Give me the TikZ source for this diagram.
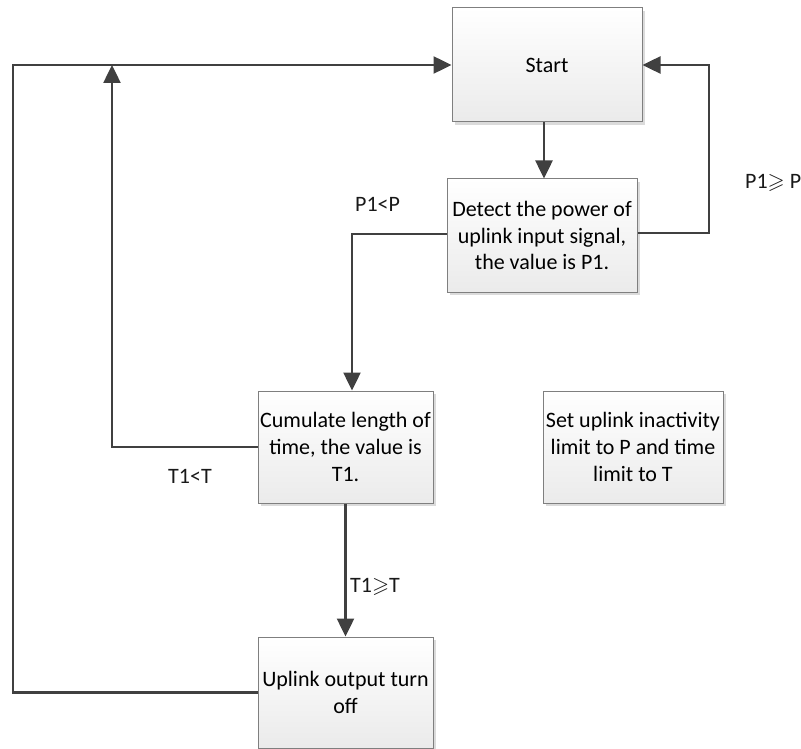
\documentclass[tikz,border=0pt]{standalone}
\usepackage{fontspec}
\setmainfont{Carlito}
\usepackage{amssymb}
\usetikzlibrary{arrows.meta,calc,shadows}
\definecolor{linec}{HTML}{404040}
\definecolor{boxborder}{HTML}{7F7F7F}
\tikzset{
  box/.style={draw=boxborder, line width=1pt, top color=white, bottom color=black!8,
    align=center, inner sep=0pt, font=\fontsize{22}{26.8}\selectfont,
    drop shadow={shadow xshift=3pt, shadow yshift=-3pt, fill=black!14, opacity=1}},
  conn/.style={draw=linec, line width=2.5pt, -{Triangle[length=18pt,width=17pt]}},
  lbl/.style={font=\fontsize{22}{26.8}\selectfont, inner sep=0pt, text=black!90}
}
\begin{document}
\begin{tikzpicture}[x=1pt,y=-1pt]
\useasboundingbox (0,0) rectangle (801,749);
\node[box, minimum width=190pt, minimum height=114pt] (start) at (547,65) {Start};
\node[box, minimum width=190pt, minimum height=113pt] (detect) at (542,235.5) {Detect the power of\\uplink input signal,\\the value is P1.};
\node[box, minimum width=175pt, minimum height=112pt] (cum) at (345.5,447) {Cumulate length of\\time, the value is\\T1.};
\node[box, minimum width=175pt, minimum height=111pt] (off) at (345.5,692.5) {Uplink output turn\\off};
\node[box, minimum width=180pt, minimum height=112pt] (set) at (633,447) {Set uplink inactivity\\limit to P and time\\limit to T};

\coordinate (sdown) at (544,122);
\coordinate (rc) at (709,233);
\coordinate (dl) at (447,234);
\coordinate (cin) at (352,234);
\coordinate (lc) at (112,447);
\coordinate (ltop) at (112,65);
\coordinate (oc) at (13,692.5);
\coordinate (otop) at (13,65);

\draw[conn] (sdown) -- (sdown |- detect.north);
\draw[conn] (detect.east |- rc) -- (rc) |- (start.east);
\draw[conn] (dl) -- (cin) -- (cin |- cum.north);
\draw[conn] (cum.west) -- (lc) -- (ltop);
\draw[conn] (cum.south) -- (off.north);
\draw[conn] (off.west) -- (oc) -- (otop) -- (start.west);

\node[lbl, anchor=west] (p1lt) at (355,204) {P1<P};
\node[lbl, anchor=west] (p1ge) at (745,183) {P1$\geqslant$ P};
\node[lbl] (t1lt) at (190,476) {T1<T};
\node[lbl, anchor=west] (t1ge) at (350,587) {T1$\geqslant$T};
\end{tikzpicture}
\end{document}
